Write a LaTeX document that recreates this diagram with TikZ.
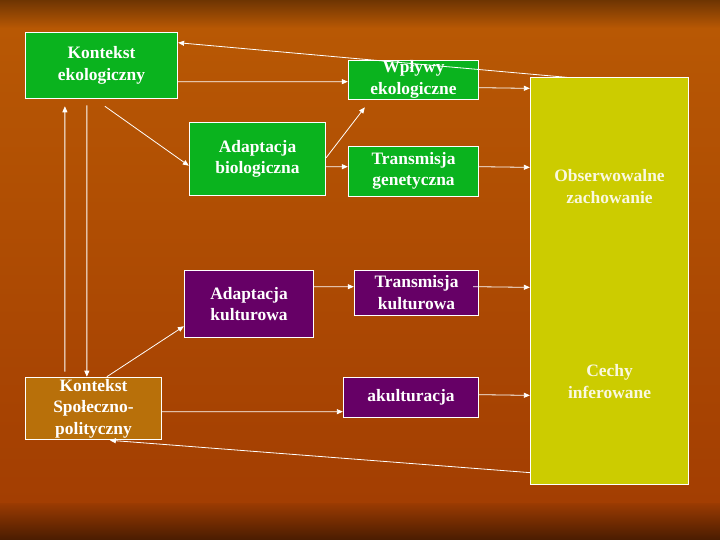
\documentclass[tikz,border=0pt]{standalone}
\usepackage{fontspec}
\setmainfont{Liberation Serif}
\usetikzlibrary{arrows.meta, calc}
\definecolor{ecogreen}{HTML}{0AB31E}
\definecolor{cultpurple}{HTML}{660066}
\definecolor{obsyellow}{HTML}{CCCC00}
\definecolor{socbrown}{HTML}{B8700A}
\definecolor{bgtop}{HTML}{B85804}
\definecolor{bglow}{HTML}{A33E02}
\definecolor{cream}{HTML}{FAF8E0}

\begin{document}
\begin{tikzpicture}[x=1bp, y=-1bp, >={Triangle[length=6bp,width=5bp]},
  box/.style={draw=white, line width=0.8bp, text=white, align=center, inner sep=0pt,
    font=\bfseries\fontsize{17.5}{21.5}\selectfont},
  eco/.style={box, fill=ecogreen},
  cult/.style={box, fill=cultpurple},
  link/.style={->, draw=white, line width=0.8bp}]
  \useasboundingbox (0,0) rectangle (720,540);
  % background
  \shade[top color=bgtop, bottom color=bglow] (0,27) rectangle (720,504);
  \shade[top color=black!40!bgtop, bottom color=bgtop] (0,0) rectangle (720,28);
  \shade[top color=bglow!95!black, bottom color=bglow!45!black] (0,503) rectangle (720,540);
  % ecological side
  \node[eco, minimum width=153, minimum height=67] (ekol) at (101.5,65.5) {Kontekst\\ekologiczny};
  \node[eco, minimum width=131, minimum height=39] (wply) at (413.5,79.5) {Wpływy\\ekologiczne};
  \node[eco, minimum width=137, minimum height=74] (biol) at (257.5,159) {Adaptacja\\biologiczna};
  \node[eco, minimum width=131, minimum height=50] (tgen) at (413.5,171) {Transmisja\\genetyczna};
  % cultural side
  \node[cult, minimum width=130, minimum height=68] (akult) at (249,304) {Adaptacja\\kulturowa};
  \node[cult, minimum width=125, minimum height=45] (tkult) at (416.5,292.5) {Transmisja\\kulturowa};
  \node[cult, minimum width=136, minimum height=40] (akul) at (411,397) {akulturacja};
  \node[box, fill=socbrown, minimum width=137, minimum height=63] (spol) at (93.5,408.5)
    {Kontekst\\Społeczno-\\polityczny};
  % observed traits
  \node[box, fill=obsyellow, minimum width=159, minimum height=408] (obs) at (609.5,281) {};
  \node[box, draw=none, text=cream] (obsA) at ($(obs.north)+(0,109)$) {Obserwowalne\\zachowanie};
  \node[box, draw=none, text=cream] (obsB) at ($(obs.north)+(0,304)$) {Cechy\\inferowane};
  % connectors
  \draw[link] ($(obs.north west)+(37,0)$) -- ($(ekol.north east)+(0,11)$);
  \draw[link] ($(ekol.north east)+(0,50)$) -- ($(wply.north west)+(0,22)$);
  \draw[link] ($(ekol.south west)+(80,7)$) -- ($(biol.north west)+(0,44)$);
  \draw[link] ($(biol.north east)+(0,36)$) -- ($(wply.south west)+(17,8)$);
  \draw[link] ($(biol.north east)+(0,45)$) -- ($(tgen.north west)+(0,21)$);
  \draw[link] ($(wply.north east)+(0,28)$) -- ($(obs.north west)+(0,11)$);
  \draw[link] ($(tgen.north east)+(0,21)$) -- ($(obs.north west)+(0,90)$);
  \draw[link] ($(spol.north west)+(40,-5)$) -- ($(ekol.south west)+(40,7)$);
  \draw[link] ($(ekol.south west)+(62,6)$) -- ($(spol.north west)+(62,0)$);
  \draw[link] ($(spol.north west)+(82,0)$) -- ($(akult.south west)+(0,-12)$);
  \draw[link] ($(akult.north east)+(0,17)$) -- ($(tkult.north west)+(0,17)$);
  \draw[link] ($(tkult.north east)+(-6,17)$) -- ($(obs.north west)+(0,210)$);
  \draw[link] ($(spol.north east)+(0,35)$) -- ($(akul.north west)+(0,35)$);
  \draw[link] ($(akul.north east)+(0,18)$) -- ($(obs.north west)+(0,318)$);
  \draw[link] ($(obs.south west)+(0,-12)$) -- ($(spol.south west)+(85,0)$);
\end{tikzpicture}
\end{document}
